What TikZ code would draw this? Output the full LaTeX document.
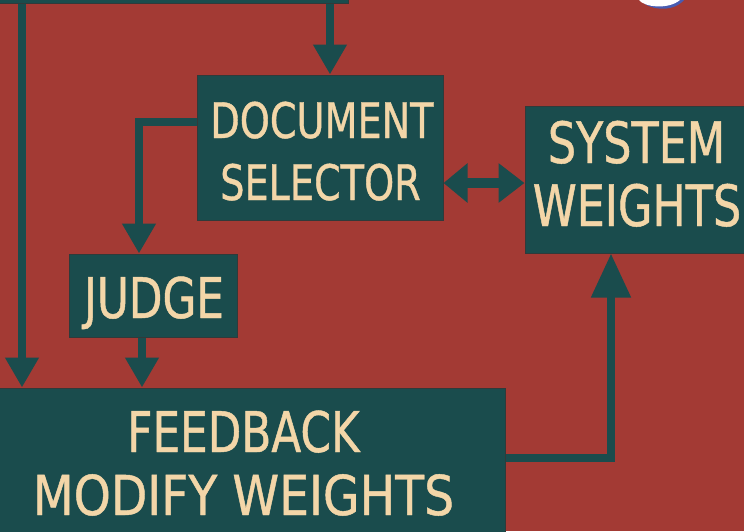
\documentclass[tikz,border=0pt]{standalone}
\usepackage{fontspec}
\newfontfamily\boxfont[FakeStretch=0.78,FakeBold=0.8]{DejaVu Sans}
\newfontfamily\widefont[FakeStretch=0.86,FakeBold=0.8]{DejaVu Sans}
\usetikzlibrary{arrows.meta}
\definecolor{bgred}{RGB}{163,58,52}
\definecolor{boxteal}{RGB}{26,76,77}
\definecolor{boxedge}{RGB}{48,58,58}
\definecolor{labeltan}{RGB}{243,214,168}
\definecolor{titleblue}{RGB}{72,92,178}
\begin{document}
\begin{tikzpicture}[x=1pt,y=-1pt,
  blk/.style={rectangle,fill=boxteal,draw=boxedge,line width=1pt,inner sep=0pt},
  lbl/.style={anchor=base,inner sep=0pt,text=labeltan,font=\boxfont},
  flow/.style={draw=boxteal,line width=8pt,
    -{Triangle[width=32pt,length=30pt]}},
  bigflow/.style={draw=boxteal,line width=8pt,
    -{Triangle[width=38pt,length=44pt]}},
  twoway/.style={draw=boxteal,line width=10pt,
    {Triangle[width=38pt,length=24pt]}-{Triangle[width=38pt,length=26pt]}}]
\useasboundingbox (0,0) rectangle (744,531);
\clip (0,0) rectangle (744,531);
\fill[bgred] (0,0) rectangle (744,531);

% heading glyph cut by the top edge
\fill[titleblue] (641,0) .. controls (646,9) and (672,14) .. (684,0) -- cycle;
\fill[white] (639,0) .. controls (644,7) and (668,10) .. (680,0) -- cycle;

% boxes
\node[blk,minimum width=358pt,minimum height=62pt] (top) at (169,-28) {};
\node[blk,minimum width=246pt,minimum height=145pt] (doc) at (320,147.5) {};
\node[blk,minimum width=225pt,minimum height=147pt] (sw) at (637.5,179.5) {};
\node[blk,minimum width=168pt,minimum height=83pt] (judge) at (153,295.5) {};
\node[blk,minimum width=525pt,minimum height=172pt] (fb) at (242.5,474) {};

% labels
\node[lbl,font=\boxfont\fontsize{49}{49}\selectfont] (docA) at (322,138) {DOCUMENT};
\node[lbl,font=\boxfont\fontsize{49}{49}\selectfont] (docB) at (320.5,200) {SELECTOR};
\node[lbl,font=\boxfont\fontsize{57}{57}\selectfont] (swA) at (636.5,163) {SYSTEM};
\node[lbl,font=\boxfont\fontsize{57}{57}\selectfont] (swB) at (637,226) {WEIGHTS};
\node[lbl,font=\boxfont\fontsize{56}{56}\selectfont] (judgeA) at (154,318) {JUDGE};
\node[lbl,font=\boxfont\fontsize{56}{56}\selectfont] (fbA) at (243.5,452) {FEEDBACK};
\node[lbl,font=\widefont\fontsize{55}{55}\selectfont] (fbB) at (243.5,515) {MODIFY WEIGHTS};

% routing points
\coordinate (lx) at (22,0);
\coordinate (jy) at (0,122);
\coordinate (dy) at (0,183);
\coordinate (rx) at (611,458);

% connectors
\draw[flow] (lx |- top.south) -- (lx |- fb.north);
\draw[flow] ([xshift=10pt]doc.north |- top.south) -- ([xshift=10pt]doc.north);
\draw[flow] (doc.west |- jy) -| ([xshift=-14pt]judge.north);
\draw[flow] ([xshift=-11pt]judge.south) -- ([xshift=-11pt]judge.south |- fb.north);
\draw[twoway] (doc.east |- dy) -- (sw.west |- dy);
\draw[bigflow] (fb.east |- rx) -| (sw.south -| rx);
\end{tikzpicture}
\end{document}
